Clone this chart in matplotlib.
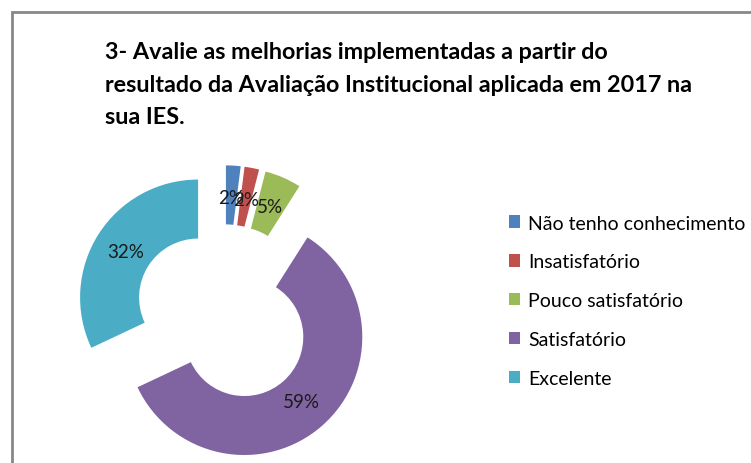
import numpy as np
import matplotlib
matplotlib.use('Agg')
from matplotlib import pyplot as plt
from matplotlib.patches import Rectangle

# Data
categories = ['Não tenho conhecimento', 'Insatisfatório', 'Pouco satisfatório',
              'Satisfatório', 'Excelente']
shares = [2, 2, 5, 59, 32]
pct_labels = ['2%', '2%', '5%', '59%', '32%']
colors = ['#4F81BD', '#C0504D', '#9BBB59', '#8064A2', '#4BACC6']
title = ('3- Avalie as melhorias implementadas a partir do\n'
         'resultado da Avaliação Institucional aplicada em 2017 na\n'
         'sua IES.')

W, H = 751, 464
fig = plt.figure(figsize=(W / 100, H / 100), dpi=100)
plt.rcParams['font.family'] = ['Lato', 'DejaVu Sans']

# Chart frame (open to the right and bottom, as in the screenshot)
fig.patches.append(Rectangle((12 / W, -0.1), 1.2, (H - 13) / H + 0.1,
                             transform=fig.transFigure, fill=False,
                             edgecolor='#878787', linewidth=2))

# Doughnut axes: 1 data unit = 118 px, centre at (224, 315) px
R = 118
span = 3.2 * R
cx, cy = 224, H - 315
ax = fig.add_axes([(cx - span / 2) / W, (cy - span / 2) / H, span / W, span / H])
wedges, _ = ax.pie(shares, colors=colors, startangle=90, counterclock=False,
                   explode=[0.26] * len(shares), radius=1,
                   wedgeprops=dict(width=0.5, linewidth=0))
for w, lab in zip(wedges, pct_labels):
    ang = np.deg2rad((w.theta1 + w.theta2) / 2)
    x0, y0 = w.center
    ax.text(x0 + 0.73 * np.cos(ang), y0 + 0.73 * np.sin(ang), lab,
            ha='center', va='center', fontsize=13.5, color='#1a1a1a')
ax.set_xlim(-1.6, 1.6)
ax.set_ylim(-1.6, 1.6)
ax.set_aspect('equal')
ax.axis('off')

fig.text(105 / W, 1 - 42 / H, title, ha='left', va='top', fontsize=16.8,
         fontweight='bold', linespacing=1.68)

fig.legend(wedges, categories, loc='upper left',
           bbox_to_anchor=(491 / W, 1 - 198 / H), frameon=False,
           handlelength=0.6, handleheight=0.6,
           handletextpad=0.4, labelspacing=1.12,
           prop=dict(size=14))

plt.savefig('out.png', dpi=100)
